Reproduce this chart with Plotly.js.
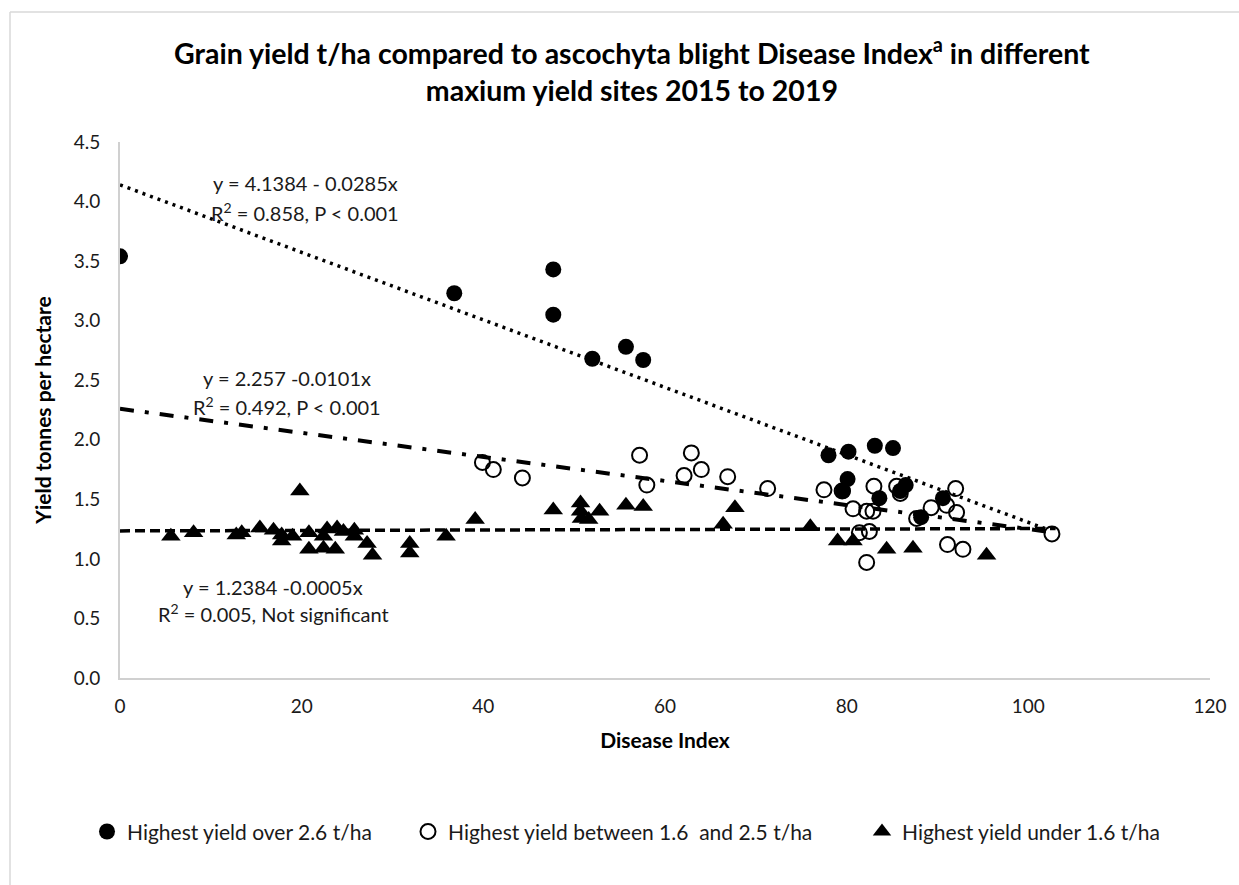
<!DOCTYPE html>
<html>
<head>
<meta charset="utf-8">
<script src="https://cdn.plot.ly/plotly-3.0.1.min.js"></script>
<style>
html,body{margin:0;padding:0;background:#fff;}
#chart{width:1239px;height:885px;}
</style>
</head>
<body>
<div id="chart"></div>
<script>
// Highest yield over 2.6 t/ha (filled circles)
const highX = [0, 36.8, 47.7, 47.7, 52.0, 55.7, 57.6, 78.0, 80.2, 83.1, 85.1, 80.1, 79.6, 83.6, 86.5, 85.9, 90.6, 88.2];
const highY = [3.54, 3.23, 3.43, 3.05, 2.68, 2.78, 2.67, 1.87, 1.90, 1.95, 1.93, 1.67, 1.57, 1.51, 1.62, 1.57, 1.51, 1.35];

// Highest yield between 1.6 and 2.5 t/ha (open circles)
const midX = [39.9, 41.1, 44.3, 57.2, 58.0, 62.1, 62.9, 64.0, 66.9, 71.3, 77.5, 79.5, 80.7, 82.2, 82.9, 81.4, 82.5, 82.2, 83.0, 85.5, 85.9, 87.7, 89.3, 91.0, 92.0, 92.1, 91.1, 92.8, 102.6];
const midY = [1.81, 1.75, 1.68, 1.87, 1.62, 1.70, 1.89, 1.75, 1.69, 1.59, 1.58, 1.57, 1.42, 1.40, 1.40, 1.22, 1.23, 0.97, 1.61, 1.61, 1.55, 1.34, 1.43, 1.45, 1.59, 1.39, 1.12, 1.08, 1.21];

// Highest yield under 1.6 t/ha (triangles)
const lowX = [5.6, 8.1, 12.8, 13.4, 15.4, 16.9, 17.8, 17.8, 19.0, 19.8, 20.8, 20.8, 22.4, 22.4, 22.8, 23.9, 24.6, 23.7, 25.8, 25.8, 27.2, 27.8, 31.9, 31.9, 35.9, 39.1, 47.7, 50.7, 50.7, 50.8, 51.6, 52.8, 55.7, 57.6, 67.7, 66.4, 76.0, 79.0, 80.7, 84.4, 87.3, 95.4];
const lowY = [1.19, 1.22, 1.20, 1.22, 1.26, 1.24, 1.20, 1.15, 1.19, 1.57, 1.22, 1.08, 1.19, 1.09, 1.25, 1.26, 1.23, 1.08, 1.24, 1.19, 1.13, 1.03, 1.13, 1.05, 1.19, 1.33, 1.41, 1.47, 1.40, 1.34, 1.33, 1.40, 1.45, 1.44, 1.43, 1.29, 1.27, 1.15, 1.15, 1.08, 1.09, 1.03];

// Trend line end points
const trendHighX = [0, 102];
const trendHighY = [4.14, 1.25];
const trendMidX = [0, 103];
const trendMidY = [2.26, 1.22];
const trendLowX = [0, 103];
const trendLowY = [1.235, 1.255];

// Tick values
const xTicks = [0, 20, 40, 60, 80, 100, 120];
const yTicks = [0, 0.5, 1.0, 1.5, 2.0, 2.5, 3.0, 3.5, 4.0, 4.5];

const FONT = 'Lato, "Open Sans", sans-serif';

const traces = [
  {x: trendHighX, y: trendHighY, mode: 'lines', showlegend: false, hoverinfo: 'skip',
   line: {color: '#000', width: 3.5, dash: '3px,5px'}},
  {x: trendMidX, y: trendMidY, mode: 'lines', showlegend: false, hoverinfo: 'skip',
   line: {color: '#000', width: 4, dash: '14px,11px,4px,11px'}},
  {x: trendLowX, y: trendLowY, mode: 'lines', showlegend: false, hoverinfo: 'skip',
   line: {color: '#000', width: 3.5, dash: '10px,5px'}},
  {x: highX, y: highY, mode: 'markers', name: 'Highest yield over 2.6 t/ha', legend: 'legend',
   marker: {symbol: 'circle', size: 16, color: '#000'}},
  {x: midX, y: midY, mode: 'markers', name: 'Highest yield between 1.6&nbsp; and 2.5 t/ha', legend: 'legend2',
   marker: {symbol: 'circle-open', size: 15, color: '#000', line: {width: 2, color: '#000'}}},
  {x: lowX, y: lowY, mode: 'markers', name: 'Highest yield under 1.6 t/ha', legend: 'legend3',
   marker: {symbol: 'triangle-up', size: 17, color: '#000'}}
];

const legFont = {family: FONT, size: 21, color: '#1a1a1a'};
const legBase = {orientation: 'h', xanchor: 'left', y: -0.287, yanchor: 'middle', font: legFont, itemwidth: 30, bgcolor: 'rgba(0,0,0,0)'};

const annFont = {family: FONT, size: 20, color: '#1a1a1a'};
const layout = {
  width: 1239, height: 885,
  paper_bgcolor: '#fff', plot_bgcolor: '#fff',
  margin: {l: 120, r: 29, t: 142, b: 207},
  font: {family: FONT, color: '#1a1a1a'},
  title: {
    text: '<b>Grain yield t/ha compared to ascochyta blight Disease Index<sup>a</sup> in different<br>maxium yield sites 2015 to 2019</b>',
    font: {family: FONT, size: 28.5, color: '#000'},
    x: 0.51, xanchor: 'center', y: 0.928, yanchor: 'top'
  },
  xaxis: {
    range: [0, 120], tickvals: xTicks, ticktext: xTicks.map(String),
    showgrid: false, zeroline: false, showline: true, linecolor: '#d0d0d0', linewidth: 2,
    ticks: '', tickfont: {family: FONT, size: 19, color: '#1a1a1a'}, ticklabelstandoff: 10,
    title: {text: '<b>Disease Index</b>', font: {family: FONT, size: 21, color: '#000'}, standoff: 18}
  },
  yaxis: {
    range: [0, 4.5], tickvals: yTicks, ticktext: yTicks.map(v => v.toFixed(1)),
    showgrid: false, zeroline: false, showline: true, linecolor: '#d0d0d0', linewidth: 2,
    ticks: '', tickfont: {family: FONT, size: 19, color: '#1a1a1a'}, ticklabelstandoff: 14,
    title: {text: '<b>Yield tonnes per hectare</b>', font: {family: FONT, size: 21, color: '#000'}, standoff: 16}
  },
  legend: Object.assign({}, legBase, {x: (107 - 140) / 1090}),
  legend2: Object.assign({}, legBase, {x: (428 - 140) / 1090}),
  legend3: Object.assign({}, legBase, {x: (882 - 140) / 1090}),
  annotations: [
    {xref: 'paper', yref: 'paper', x: (305-120)/1090, y: (678-183)/536, text: 'y = 4.1384 - 0.0285x', showarrow: false, font: annFont, xanchor: 'center', yanchor: 'middle'},
    {xref: 'paper', yref: 'paper', x: (305-120)/1090, y: (678-212)/536, text: 'R<sup>2</sup> = 0.858, P < 0.001', showarrow: false, font: annFont, xanchor: 'center', yanchor: 'middle'},
    {xref: 'paper', yref: 'paper', x: (287-120)/1090, y: (678-378)/536, text: 'y = 2.257 -0.0101x', showarrow: false, font: annFont, xanchor: 'center', yanchor: 'middle'},
    {xref: 'paper', yref: 'paper', x: (287-120)/1090, y: (678-406)/536, text: 'R<sup>2</sup> = 0.492, P < 0.001', showarrow: false, font: annFont, xanchor: 'center', yanchor: 'middle'},
    {xref: 'paper', yref: 'paper', x: (273-120)/1090, y: (678-587)/536, text: 'y = 1.2384 -0.0005x', showarrow: false, font: annFont, xanchor: 'center', yanchor: 'middle'},
    {xref: 'paper', yref: 'paper', x: (273-120)/1090, y: (678-613)/536, text: 'R<sup>2</sup> = 0.005, Not significant', showarrow: false, font: annFont, xanchor: 'center', yanchor: 'middle'}
  ],
  shapes: [
    {type: 'line', xref: 'paper', yref: 'paper', x0: (10-120)/1090, x1: 1.05, y0: (678-12)/536, y1: (678-12)/536, line: {color: '#d9d9d9', width: 1.5}},
    {type: 'line', xref: 'paper', yref: 'paper', x0: (10-120)/1090, x1: (10-120)/1090, y0: (678-12)/536, y1: -0.4, line: {color: '#d9d9d9', width: 1.5}}
  ]
};

Plotly.newPlot('chart', traces, layout, {displayModeBar: false, staticPlot: true});
</script>
</body>
</html>
